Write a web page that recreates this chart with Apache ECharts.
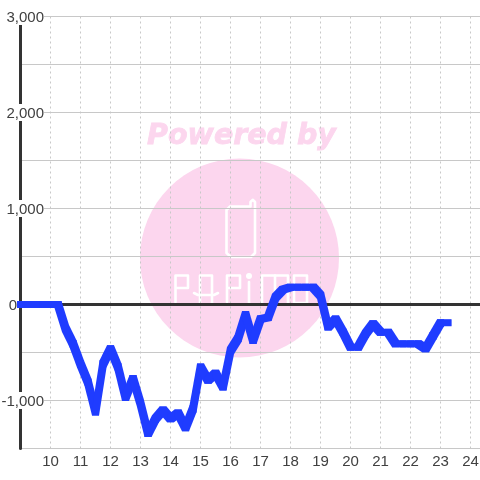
<!DOCTYPE html>
<html>
<head>
<meta charset="utf-8">
<style>html,body{margin:0;padding:0;background:#fff}#c{width:480px;height:480px}</style>
<script src="https://cdn.jsdelivr.net/npm/echarts@6/dist/echarts.min.js"></script>
</head>
<body>
<div id="c"></div>
<script>
var hours = [9,9.25,9.5,9.75,10,10.25,10.5,10.75,11,11.25,11.5,11.75,12,12.25,12.5,12.75,13,13.25,13.5,13.75,14,14.25,14.5,14.75,15,15.25,15.5,15.75,16,16.25,16.5,16.75,17,17.25,17.5,17.75,18,18.25,18.5,18.75,19,19.25,19.5,19.75,20,20.25,20.5,20.75,21,21.25,21.5,21.75,22,22.25,22.5,22.75,23,23.25];
var profit = [0,0,0,0,0,0,-250,-410,-620,-810,-1120,-620,-460,-650,-970,-770,-1030,-1345,-1190,-1100,-1190,-1130,-1285,-1085,-650,-790,-715,-860,-480,-355,-105,-375,-150,-135,75,155,180,180,180,180,95,-235,-150,-290,-445,-445,-305,-200,-290,-290,-410,-410,-410,-410,-460,-325,-190,-190];
var xTicks = [10,11,12,13,14,15,16,17,18,19,20,21,22,23,24];
var yTicks = [3000,2000,1000,0,-1000];

var pink = '#fcd6ee';
var ink = '#404040';
function wm(points){
  return {type:'polyline',z:-9,shape:{points:points},style:{fill:null,stroke:'#fff',lineWidth:2.6,lineCap:'round',lineJoin:'round'}};
}
var segments = [];
for (var i=0;i<hours.length-1;i++) segments.push([hours[i],profit[i],hours[i+1],profit[i+1]]);

function penSegment(params, api){
  var a = api.coord([api.value(0),api.value(1)]);
  var b = api.coord([api.value(2),api.value(3)]);
  var h = 3.5, pts;
  if (b[1] >= a[1]) {
    pts = [[a[0]-h,a[1]-h],[a[0]+h,a[1]-h],[b[0]+h,b[1]-h],[b[0]+h,b[1]+h],[b[0]-h,b[1]+h],[a[0]-h,a[1]+h]];
  } else {
    pts = [[a[0]-h,a[1]+h],[a[0]-h,a[1]-h],[b[0]-h,b[1]-h],[b[0]+h,b[1]-h],[b[0]+h,b[1]+h],[a[0]+h,a[1]+h]];
  }
  return {type:'polygon',shape:{points:pts},style:{fill:'#1f3cff'}};
}

var chart = echarts.init(document.getElementById('c'), null, {renderer:'canvas'});
chart.setOption({
  animation:false,
  backgroundColor:'#fff',
  grid:{left:20.5,right:-0.5,top:16.5,bottom:31.5,containLabel:false,outerBoundsMode:'none'},
  xAxis:{type:'value',min:9,max:24.33,interval:1,
    axisLine:{show:false},axisTick:{show:false},
    axisLabel:{color:ink,fontFamily:'Liberation Sans',fontSize:15,margin:6,
      customValues:xTicks,formatter:function(v){return String(v);}},
    splitLine:{show:true,lineStyle:{color:'#c8c8c8',type:[2,3],width:1}}},
  yAxis:{type:'value',min:-1500,max:3000,interval:500,
    axisLine:{show:true,onZero:false,lineStyle:{color:'#333',width:3}},axisTick:{show:false},
    axisLabel:{color:ink,fontFamily:'Liberation Sans',fontSize:15,margin:-23.5,
      customValues:yTicks,
      formatter:function(v){return v===0?'{z|0}':'{n|'+v.toLocaleString('en-US')+'}';},
      rich:{z:{color:ink,fontFamily:'Liberation Sans',fontSize:15,padding:[2,27,0,0]},
            n:{color:ink,fontFamily:'Liberation Sans',fontSize:15,backgroundColor:'#fff',padding:[2,0,0,0]}}},
    splitLine:{show:true,lineStyle:{color:'#c8c8c8',width:1}}},
  graphic:[
    {type:'circle',z:-10,shape:{cx:239.5,cy:258,r:99.5},style:{fill:pink}},
    {type:'text',z:-10,x:241.5,y:137,style:{text:'Powered by',fill:pink,stroke:pink,lineWidth:0.8,font:'italic bold 28.5px "DejaVu Sans"',textAlign:'center',textVerticalAlign:'middle'}},
    wm([[230,206.5],[250.5,206.5],[250.5,202],[252.7,199.8],[255,202],[255,253],[251,257],[231,257],[226.5,253],[226.5,210],[230,206.5]]),
    wm([[175.5,302],[175.5,275.5],[188,275.5],[188,288],[175.5,288]]),
    wm([[200,303],[200,275.5],[212,275.5],[212,303]]),
    wm([[194,293],[198,295],[214,295],[218,293]]),
    wm([[227,302],[227,275.5],[240,275.5],[240,288],[227,288]]),
    wm([[249,303],[249,282]]),
    {type:'circle',z:-9,shape:{cx:249,cy:276,r:3},style:{fill:'#fff'}},
    wm([[262,303],[262,275.5],[288,275.5],[288,303]]),
    wm([[275,275.5],[275,303]]),
    wm([[294,275.5],[307,275.5],[307,303],[294,303],[294,275.5]])
  ],
  series:[
    {type:'line',data:hours.map(function(h,i){return [h,profit[i]];}),showSymbol:false,clip:false,z:5,
     lineStyle:{color:'#1f3cff',width:6,cap:'square',join:'bevel'},
     markLine:{silent:true,symbol:'none',label:{show:false},z:4,
       lineStyle:{color:'#333',width:3,type:'solid'},data:[{yAxis:0}]}},
    {type:'custom',data:segments,renderItem:penSegment,clip:false,z:6,silent:true,
     encode:{x:[0,2],y:[1,3]}}
  ]
});
</script>
</body>
</html>
